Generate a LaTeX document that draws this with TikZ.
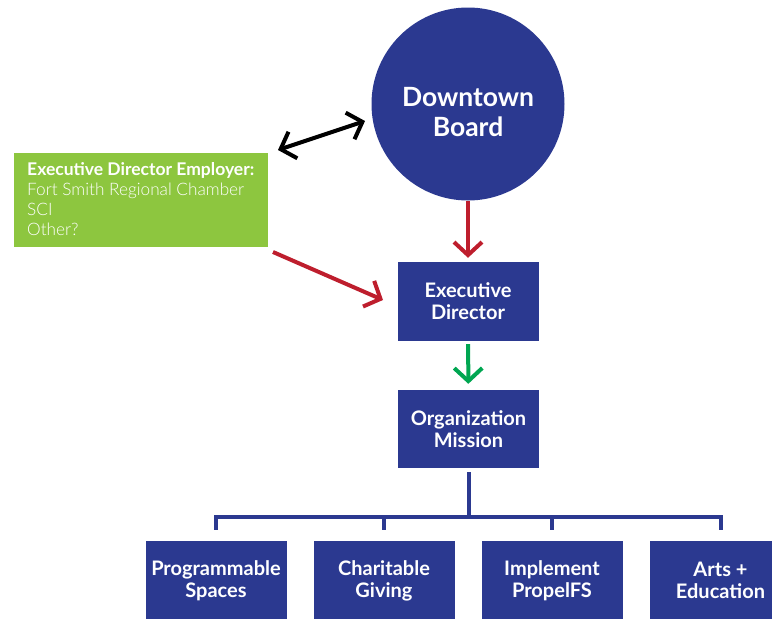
\documentclass[tikz,border=0pt]{standalone}
\usepackage{fontspec}
\setmainfont{Lato}
\newfontfamily\lightfont{Lato Light}
\usetikzlibrary{arrows.meta,calc}
\definecolor{navy}{HTML}{2B3990}
\definecolor{leaf}{HTML}{8DC63F}
\definecolor{crimson}{HTML}{BE1E2D}
\definecolor{emerald}{HTML}{00A651}
\tikzset{
  box/.style={fill=navy,draw=none,minimum width=141pt,minimum height=79pt,inner sep=0pt,
    text=white,font=\bfseries\fontsize{20}{22}\selectfont,align=center},
  arr/.style={line width=4pt,-{Straight Barb[length=13pt,width=28pt,line width=4pt]}},
  tree/.style={draw=navy,line width=4pt},
}
\begin{document}
\begin{tikzpicture}[x=1pt,y=-1pt]
\useasboundingbox (0,0) rectangle (772,619);
\begin{scope}
\clip (0,0) rectangle (772,619);
\node[circle,fill=navy,minimum size=193pt,inner sep=0pt] (board) at (468,104) {};
\node[text=white,align=center,inner sep=0pt,
  font=\bfseries\fontsize{26.5}{30}\selectfont] (boardlabel) at ($(board.center)+(0,8)$)
  {Downtown\\Board};
\node[box] (ed) at (468,301.5) {Executive\\Director};
\node[box,minimum height=78pt] (org) at (468.5,429) {Organization\\Mission};
\node[fill=leaf,minimum width=254pt,minimum height=94pt,inner sep=0pt] (emp) at (141,200) {};
\node[anchor=north west,text=white,align=left,inner sep=0pt,
  font=\fontsize{17.5}{20}\selectfont] (emptext) at (27,162)
  {\textbf{Executive Director Employer:}\\{\lightfont\fontsize{17.2}{20}\selectfont Fort Smith Regional Chamber}\\{\lightfont\fontsize{17.2}{20}\selectfont SCI}\\{\lightfont\fontsize{17.2}{20}\selectfont Other?}};
\node[box] (b1) at (216,580.5) {Programmable\\Spaces};
\node[box] (b2) at (384,580.5) {Charitable\\Giving};
\node[box] (b3) at (552,580.5) {Implement\\PropelFS};
\node[box] (b4) at (720.5,580.5) {Arts +\\Education};
\end{scope}
% arrows
\coordinate (dl) at (278,150);
\coordinate (dr) at (365,121);
\draw[line width=4pt,{Straight Barb[length=13pt,width=28pt,line width=4pt]}-{Straight Barb[length=13pt,width=28pt,line width=4pt]}] (dl) -- (dr);
\draw[arr,crimson,shorten >=4pt] (board) -- (ed);
\coordinate (rs) at (273,252);
\coordinate (re) at (383,300);
\draw[arr,crimson] (rs) -- (re);
\draw[arr,emerald,shorten <=3pt,shorten >=6pt] (ed) -- (org);
% tree
\coordinate (hub) at (468.5,517);
\draw[tree] (org.south) ++(0,4) -- (hub);
\draw[tree,line cap=rect] (b1.north |- hub) -- (b4.north |- hub);
\foreach \b in {b1,b2,b3,b4}{
  \draw[tree] (\b.north |- hub) -- ($(\b.north)+(0,-11)$);
}
\end{tikzpicture}
\end{document}
